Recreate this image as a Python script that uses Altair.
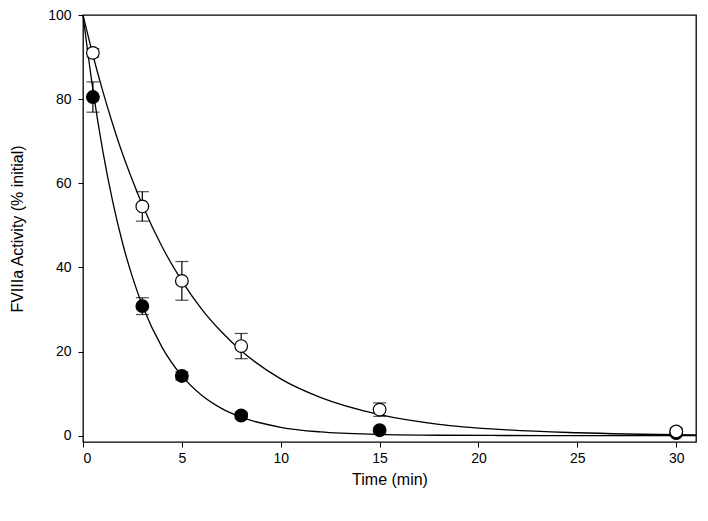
import altair as alt
import pandas as pd

# Measured points
times = [0.5, 3, 5, 8, 15, 30]
open_mean = [91.0, 54.5, 36.8, 21.3, 6.2, 1.0]
open_err = [1.0, 3.5, 4.6, 3.0, 1.6, 0.8]
filled_mean = [80.5, 30.8, 14.2, 4.8, 1.3, 0.6]
filled_err = [3.6, 2.0, 1.0, 0.8, 0.5, 0.3]

# Fitted curves
curve_t = [0, 0.5, 1, 1.5, 2, 2.5, 3, 4, 5, 6, 7, 8, 10, 12, 15, 18, 21, 25, 31]
open_curve = [100, 90.5, 81.9, 74.1, 67.0, 60.7, 54.9, 44.9, 36.8, 30.1, 24.7,
              20.2, 13.5, 9.1, 5.0, 2.7, 1.5, 0.7, 0.2]
filled_curve = [100, 82.3, 67.7, 55.7, 45.8, 37.7, 31.0, 21.0, 14.2, 9.6, 6.5,
                4.4, 2.0, 0.9, 0.3, 0.1, 0.05, 0.0, 0.0]

x_ticks = [0, 5, 10, 15, 20, 25, 30]
y_ticks = [0, 20, 40, 60, 80, 100]

pts = pd.DataFrame({
    "t": times * 2,
    "v": filled_mean + open_mean,
    "lo": [m - e for m, e in zip(filled_mean, filled_err)] + [m - e for m, e in zip(open_mean, open_err)],
    "hi": [m + e for m, e in zip(filled_mean, filled_err)] + [m + e for m, e in zip(open_mean, open_err)],
    "s": ["filled"] * len(times) + ["open"] * len(times),
    "o": [0] * len(times) + [1] * len(times),
})
curves = pd.DataFrame({
    "t": curve_t * 2,
    "v": open_curve + filled_curve,
    "s": ["open"] * len(curve_t) + ["filled"] * len(curve_t),
})

FONT = "Liberation Sans"
xs = alt.Scale(domain=[0, 31], nice=False, zero=False)
ys = alt.Scale(domain=[-1.5, 100], nice=False, zero=False)
xax = alt.Axis(values=x_ticks, title="Time (min)", grid=False, domain=False,
               tickColor="black", tickSize=5, labelColor="black", labelFontSize=14,
               labelFont=FONT, titleFont=FONT, titleFontSize=16,
               titleFontWeight="normal", titleColor="black", labelPadding=4, titlePadding=6)
yax = alt.Axis(values=y_ticks, title="FVIIIa Activity (% initial)", grid=False, domain=False,
               tickColor="black", tickSize=5, labelColor="black", labelFontSize=14,
               labelFont=FONT, titleFont=FONT, titleFontSize=16,
               titleFontWeight="normal", titleColor="black", labelPadding=7, titlePadding=22)

lines = alt.Chart(curves).mark_line(color="black", strokeWidth=1.3, interpolate="monotone").encode(
    x=alt.X("t:Q", scale=xs, axis=xax),
    y=alt.Y("v:Q", scale=ys, axis=yax),
    detail="s:N",
)

bars = alt.Chart(pts).mark_rule(color="black", strokeWidth=1.2).encode(
    x=alt.X("t:Q", scale=xs), y=alt.Y("lo:Q", scale=ys), y2="hi:Q"
)
cap_lo = alt.Chart(pts).mark_tick(color="black", thickness=1.2, size=13, orient="horizontal").encode(
    x=alt.X("t:Q", scale=xs), y=alt.Y("lo:Q", scale=ys)
)
cap_hi = alt.Chart(pts).mark_tick(color="black", thickness=1.2, size=13, orient="horizontal").encode(
    x=alt.X("t:Q", scale=xs), y=alt.Y("hi:Q", scale=ys)
)

points = alt.Chart(pts).mark_point(shape="circle", size=160, strokeWidth=1.2, opacity=1).encode(
    x=alt.X("t:Q", scale=xs),
    y=alt.Y("v:Q", scale=ys),
    fill=alt.Fill("s:N", scale=alt.Scale(domain=["open", "filled"], range=["white", "black"]), legend=None),
    stroke=alt.value("black"),
    order=alt.Order("o:Q"),
)

chart = alt.layer(lines, bars, cap_lo, cap_hi, points).properties(
    width=613, height=427,
    autosize=alt.AutoSizeParams(type="none"),
    padding={"left": 75, "top": 7, "right": 4, "bottom": 70},
).configure(background="white").configure_view(stroke="black", strokeWidth=1.3)

chart.save("out.html", embed_options={"renderer": "svg", "actions": False})
